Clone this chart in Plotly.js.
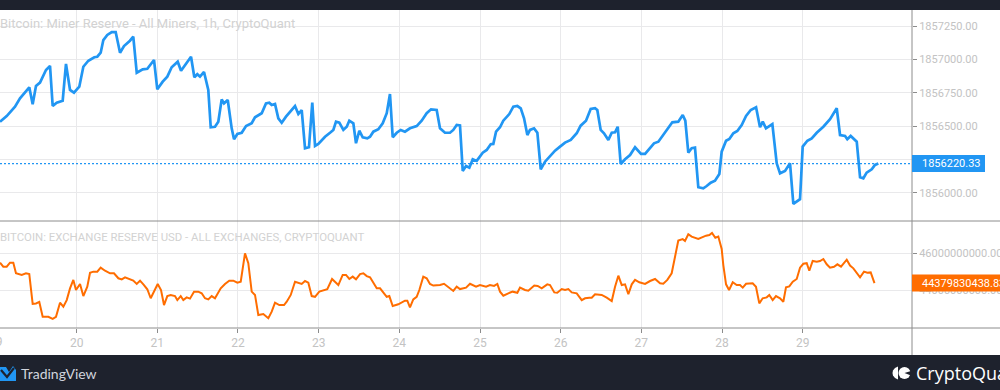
<!DOCTYPE html>
<html>
<head>
<meta charset="utf-8">
<script src="https://cdn.plot.ly/plotly-3.0.1.min.js"></script>
<style>
html,body{margin:0;padding:0;background:#fff;}
#chart{width:1000px;height:390px;}
</style>
</head>
<body>
<div id="chart"></div>
<script>
const dayTicks = [19,20,21,22,23,24,25,26,27,28,29];
const dayTickText = ["19","20","21","22","23","24","25","26","27","28","29"];

const minerDays = [19.05,19.133,19.236,19.298,19.413,19.455,19.496,19.546,19.62,19.67,
19.703,19.753,19.827,19.868,19.918,19.967,20.033,20.083,20.145,20.219,
20.256,20.298,20.331,20.38,20.435,20.484,20.538,20.587,20.661,20.702,
20.745,20.819,20.876,20.959,21.0,21.067,21.124,21.178,21.253,21.294,
21.418,21.459,21.496,21.529,21.579,21.632,21.662,21.715,21.756,21.798,
21.827,21.873,21.922,21.951,21.992,22.046,22.1,22.17,22.211,22.294,
22.347,22.388,22.418,22.459,22.5,22.542,22.595,22.645,22.707,22.748,
22.79,22.831,22.88,22.921,22.955,22.996,23.079,23.141,23.182,23.215,
23.256,23.306,23.348,23.38,23.43,23.463,23.504,23.546,23.603,23.637,
23.678,23.74,23.794,23.844,23.884,23.918,23.968,24.017,24.07,24.132,
24.182,24.215,24.277,24.339,24.393,24.463,24.504,24.566,24.628,24.669,
24.711,24.752,24.786,24.827,24.868,24.91,24.959,25.034,25.083,25.133,
25.165,25.199,25.248,25.289,25.363,25.413,25.463,25.505,25.546,25.587,
25.62,25.67,25.711,25.753,25.806,25.859,25.93,25.992,26.054,26.125,
26.199,26.248,26.314,26.372,26.426,26.454,26.496,26.537,26.591,26.633,
26.674,26.707,26.744,26.798,26.86,26.922,26.996,27.046,27.108,27.157,
27.211,27.273,27.334,27.384,27.458,27.513,27.545,27.582,27.624,27.665,
27.706,27.768,27.81,27.86,27.913,27.967,27.996,28.05,28.091,28.14,
28.19,28.244,28.298,28.356,28.422,28.471,28.505,28.545,28.624,28.678,
28.719,28.781,28.843,28.884,28.967,29.0,29.058,29.112,29.174,29.256,
29.339,29.422,29.463,29.525,29.553,29.595,29.67,29.711,29.752,29.793,
29.856,29.896,29.938];

const minerReserve = [1856534,1856576,1856646,1856709,1856791,1856664,1856801,1856826,1856921,1856951,
1856651,1856676,1856691,1856966,1856771,1856751,1856796,1856945,1856990,1857016,
1857020,1857050,1857145,1857183,1857205,1857205,1857050,1857100,1857140,1857170,
1856900,1856926,1856930,1856996,1856776,1856833,1856871,1856941,1856983,1856915,
1857020,1856866,1856889,1856871,1856906,1856771,1856492,1856496,1856534,1856701,
1856671,1856696,1856484,1856402,1856442,1856451,1856501,1856522,1856567,1856597,
1856671,1856676,1856659,1856666,1856559,1856526,1856571,1856609,1856651,1856591,
1856621,1856335,1856342,1856676,1856352,1856367,1856421,1856451,1856472,1856534,
1856526,1856472,1856496,1856541,1856522,1856372,1856466,1856417,1856409,1856421,
1856459,1856477,1856522,1856597,1856741,1856417,1856451,1856472,1856459,1856484,
1856496,1856501,1856541,1856597,1856626,1856621,1856484,1856451,1856451,1856472,
1856509,1856505,1856165,1856202,1856189,1856252,1856240,1856302,1856322,1856365,
1856367,1856459,1856492,1856541,1856591,1856646,1856651,1856634,1856559,1856434,
1856472,1856484,1856451,1856177,1856234,1856272,1856317,1856347,1856377,1856397,
1856447,1856504,1856541,1856629,1856634,1856621,1856472,1856447,1856397,1856451,
1856454,1856496,1856217,1856252,1856284,1856342,1856292,1856292,1856335,1856372,
1856384,1856439,1856484,1856529,1856534,1856584,1856541,1856302,1856335,1856339,
1856043,1856035,1856052,1856077,1856092,1856142,1856309,1856391,1856404,1856447,
1856464,1856509,1856576,1856621,1856641,1856492,1856534,1856484,1856516,1856222,
1856147,1856165,1856222,1855918,1855953,1856347,1856391,1856409,1856451,1856496,
1856552,1856634,1856434,1856427,1856402,1856427,1856384,1856118,1856110,1856152,
1856177,1856210,1856220.33];

const exchangeDays = [19.05,19.091,19.133,19.174,19.215,19.248,19.319,19.372,19.413,19.455,
19.496,19.537,19.579,19.649,19.703,19.744,19.794,19.835,19.877,19.918,
19.959,19.992,20.042,20.083,20.132,20.166,20.207,20.256,20.298,20.352,
20.414,20.463,20.517,20.559,20.6,20.662,20.702,20.745,20.786,20.835,
20.876,20.918,20.971,21.005,21.046,21.083,21.124,21.166,21.219,21.248,
21.29,21.322,21.364,21.405,21.455,21.508,21.55,21.591,21.632,21.674,
21.715,21.786,21.839,21.892,21.942,21.992,22.034,22.087,22.128,22.17,
22.211,22.252,22.314,22.376,22.418,22.459,22.512,22.571,22.604,22.654,
22.707,22.748,22.79,22.831,22.872,22.914,22.955,23.008,23.058,23.107,
23.166,23.244,23.298,23.339,23.38,23.422,23.463,23.513,23.554,23.596,
23.637,23.72,23.761,23.844,23.876,23.918,23.987,24.07,24.099,24.132,
24.173,24.215,24.248,24.297,24.339,24.38,24.421,24.483,
24.504,24.554,24.607,24.669,24.711,24.752,24.827,24.876,24.951,25.0,
25.075,25.124,25.174,25.215,25.248,25.289,25.351,25.405,25.463,25.496,
25.558,25.599,25.673,25.715,25.765,25.834,25.868,25.921,25.958,26.013,
26.054,26.095,26.137,26.199,26.261,26.302,26.355,26.385,26.426,26.509,
26.571,26.633,26.674,26.715,26.757,26.798,26.839,26.881,26.922,26.975,
27.046,27.108,27.17,27.232,27.272,27.322,27.376,27.417,
27.458,27.513,27.541,27.582,27.624,27.706,27.761,27.802,27.843,27.876,
27.917,27.954,27.996,28.016,28.05,28.087,28.133,28.182,28.223,28.257,
28.298,28.338,28.38,28.421,28.462,28.504,28.554,28.586,28.628,28.669,
28.719,28.76,28.793,28.834,28.877,28.926,28.967,29.008,29.05,29.082,
29.124,29.174,29.215,29.256,29.298,29.339,29.388,29.43,29.475,29.546,
29.587,29.628,29.67,29.711,29.76,29.801,29.843,29.89];

// exchange reserve in billions of USD
const exchangeReserveBn = [45.49,45.27,45.27,45.49,45.49,44.91,44.82,44.91,44.87,43.24,
43.27,43.35,42.54,42.54,42.43,42.54,43.31,43.09,43.45,44.09,
44.55,44.0,44.33,43.67,44.18,44.94,45.0,45.0,45.22,45.05,
44.91,44.91,44.64,44.58,44.69,44.6,44.51,44.33,44.51,44.27,
44.04,43.55,44.04,44.33,44.0,43.18,43.67,43.73,43.67,43.45,
43.67,43.45,43.6,43.53,43.91,43.91,43.82,43.55,43.49,43.67,
43.55,44.09,44.33,44.51,44.51,44.4,44.45,46.0,45.46,43.91,
43.73,42.64,42.69,42.46,42.82,43.31,43.18,43.18,43.36,43.73,
44.45,44.37,44.33,44.49,44.4,43.67,43.63,43.91,44.0,44.05,
44.6,44.27,44.82,44.82,44.6,44.73,44.58,44.87,44.91,44.76,
44.69,44.09,44.09,43.63,43.67,43.13,43.22,43.42,43.42,43.05,
43.49,43.63,44.0,44.73,44.64,44.33,44.24,44.24,
44.27,44.34,44.18,43.95,44.18,44.05,44.13,44.34,44.18,44.27,
44.18,44.27,44.22,44.33,43.91,43.69,43.82,43.91,43.85,44.13,
44.0,43.96,44.24,44.22,44.09,44.31,44.27,43.87,43.85,44.05,
44.0,44.05,43.87,43.82,43.45,43.55,43.58,43.58,43.77,43.73,
43.58,43.4,44.18,44.78,44.27,44.31,43.77,44.31,44.55,44.42,
44.33,44.49,44.6,44.37,44.34,44.55,44.91,45.73,
46.69,46.77,46.67,47.04,46.91,46.78,46.89,46.96,47.0,47.11,
46.85,46.91,46.24,45.36,44.31,44.0,44.42,44.27,44.27,44.13,
44.34,44.37,44.37,44.18,43.27,43.55,43.6,43.73,43.45,43.67,
43.55,43.36,44.15,44.2,44.45,44.6,45.22,45.43,45.46,45.05,
45.58,45.54,45.58,45.69,45.4,45.22,45.27,45.4,45.27,45.65,
45.33,45.18,44.91,44.69,45.0,44.94,44.96,44.37983043883];

const minerTicks = [1856000,1856250,1856500,1856750,1857000,1857250];
const minerTickText = ["1856000.00","1856250.00","1856500.00","1856750.00","1857000.00","1857250.00"];
const exchangeTicks = [44000000000,46000000000];
const exchangeTickText = ["44000000000.00","46000000000.00"];

const minerTitle = "Bitcoin: Miner Reserve - All Miners, 1h, CryptoQuant";
const exchangeTitle = "BITCOIN: EXCHANGE RESERVE USD - ALL EXCHANGES, CRYPTOQUANT";
const minerLastText = "1856220.33";
const exchangeLastText = "44379830438.83";
const firstDayLabel = "19";

// ---- Build ----
const BLUE = "#2196f3", ORANGE = "#ff6d00", DARK = "#1e222d", SEP = "#8c8c8c", GRID = "#e9e9eb", TICKTXT = "#c3c3c3";
const PW = 912, PB = 328, PH = 318;
const X = px => px / PW;
const Y = py => (PB - py) / PH;
const split = Y(221);

const exchangeReserve = exchangeReserveBn.map(v => v * 1e9);
const minerLast = minerReserve[minerReserve.length - 1];
const exchangeLast = exchangeReserve[exchangeReserve.length - 1];

const FONT = "Roboto, 'Liberation Sans', sans-serif";

const traces = [
  {x: minerDays, y: minerReserve, type: "scatter", mode: "lines", xaxis: "x", yaxis: "y",
   line: {color: BLUE, width: 2.7}, hoverinfo: "skip"},
  {x: exchangeDays, y: exchangeReserve, type: "scatter", mode: "lines", xaxis: "x", yaxis: "y2",
   line: {color: ORANGE, width: 2}, hoverinfo: "skip"}
];

function P(pts){ return "M " + pts.map(p => X(p[0]) + " " + Y(p[1])).join(" L ") + " Z"; }

const shapes = [
  {type: "rect", xref: "paper", yref: "paper", x0: 0, x1: X(1000), y0: Y(10), y1: Y(0), fillcolor: DARK, line: {width: 0}, layer: "above"},
  {type: "rect", xref: "paper", yref: "paper", x0: 0, x1: X(1000), y0: Y(390), y1: Y(355), fillcolor: DARK, line: {width: 0}, layer: "above"},
  {type: "line", xref: "paper", yref: "paper", x0: 0, x1: X(1000), y0: split, y1: split, line: {color: SEP, width: 1}, layer: "above"},
  {type: "line", xref: "paper", yref: "paper", x0: 0, x1: X(1000), y0: 0, y1: 0, line: {color: SEP, width: 1}, layer: "above"},
  {type: "line", xref: "paper", yref: "paper", x0: 1, x1: 1, y0: Y(355), y1: 1, line: {color: SEP, width: 1}, layer: "above"},
  {type: "line", xref: "paper", yref: "y", x0: 0, x1: 1, y0: minerLast, y1: minerLast, line: {color: BLUE, width: 1.3, dash: "2px,2px"}, layer: "above"},
  {type: "rect", xref: "paper", xsizemode: "pixel", xanchor: 1, x0: 0, x1: 73,
   yref: "y", ysizemode: "pixel", yanchor: minerLast, y0: -8.5, y1: 8.5, fillcolor: BLUE, line: {width: 0}, layer: "above"},
  {type: "rect", xref: "paper", xsizemode: "pixel", xanchor: 1, x0: 0, x1: 100,
   yref: "y2", ysizemode: "pixel", yanchor: exchangeLast, y0: -8.5, y1: 8.5, fillcolor: ORANGE, line: {width: 0}, layer: "above"},
  {type: "path", xref: "paper", yref: "paper", path: P([[0,367],[6,367],[9,372],[13,366],[16,370],[16,381],[0,381]]), fillcolor: BLUE, line: {width: 0}, layer: "above"},
  {type: "path", xref: "paper", yref: "paper", path: "M " + X(1) + " " + Y(370) + " L " + X(7) + " " + Y(377) + " L " + X(14) + " " + Y(368), line: {color: DARK, width: 2.2}, layer: "above"},
  {type: "path", xref: "paper", yref: "paper", path: P([[898,366.5],[895,368],[893,370.5],[892.5,373],[893,375.5],[895,378],[898,379.5]]), fillcolor: "#ffffff", line: {width: 0}, layer: "above"},
  {type: "circle", xref: "paper", yref: "paper", x0: X(898.5), x1: X(910.5), y0: Y(379), y1: Y(367), fillcolor: "#ffffff", line: {width: 0}, layer: "above"},
  {type: "path", xref: "paper", yref: "paper", path: P([[904.5,373],[911,371],[911,375.5]]), fillcolor: DARK, line: {width: 0}, layer: "above"}
];

const annotations = [
  {text: minerTitle, xref: "paper", yref: "paper", x: X(-2), y: Y(24), xanchor: "left", yanchor: "middle",
   showarrow: false, font: {family: FONT, size: 13, color: "#d2d2d2"}},
  {text: exchangeTitle, xref: "paper", yref: "paper", x: X(-2), y: Y(237), xanchor: "left", yanchor: "middle",
   showarrow: false, font: {family: FONT, size: 11.4, color: "#d2d2d2"}},
  {text: minerLastText, xref: "paper", yref: "y", x: 1, y: minerLast, xanchor: "left", yanchor: "middle", xshift: 8,
   showarrow: false, font: {family: FONT, size: 11, color: "#ffffff"}},
  {text: exchangeLastText, xref: "paper", yref: "y2", x: 1, y: exchangeLast, xanchor: "left", yanchor: "middle", xshift: 8,
   showarrow: false, font: {family: FONT, size: 11, color: "#ffffff"}},
  {text: firstDayLabel, xref: "paper", yref: "paper", x: X(-4), y: Y(342), xanchor: "center", yanchor: "middle",
   showarrow: false, font: {family: FONT, size: 12, color: TICKTXT}},
  {text: "TradingView", xref: "paper", yref: "paper", x: X(19), y: Y(373), xanchor: "left", yanchor: "middle",
   showarrow: false, font: {family: "Lato, 'Noto Sans', sans-serif", size: 14, color: "#d1d4dc"}},
  {text: "CryptoQuant", xref: "paper", yref: "paper", x: X(914), y: Y(373), xanchor: "left", yanchor: "middle",
   showarrow: false, font: {family: "'Open Sans', 'Noto Sans', sans-serif", size: 18, color: "#ffffff"}}
];

const layout = {
  width: 1000, height: 390, autosize: false,
  margin: {l: 0, r: 88, t: 10, b: 62, pad: 0},
  paper_bgcolor: "#ffffff", plot_bgcolor: "#ffffff",
  showlegend: false, hovermode: false,
  font: {family: FONT, color: TICKTXT},
  xaxis: {range: [19.05, 30.355], tickmode: "array", tickvals: dayTicks, ticktext: dayTickText,
    showgrid: true, gridcolor: GRID, gridwidth: 1, zeroline: false, showline: false,
    ticks: "outside", ticklen: 4, tickcolor: SEP, tickfont: {family: FONT, size: 12, color: TICKTXT},
    anchor: "y2", fixedrange: true},
  yaxis: {domain: [split, 1], range: [1855790, 1857370], side: "right", anchor: "x",
    tickmode: "array", tickvals: minerTicks, ticktext: minerTickText,
    showgrid: true, gridcolor: GRID, zeroline: false, showline: false,
    ticks: "outside", ticklen: 4, tickcolor: SEP, tickfont: {family: FONT, size: 11, color: TICKTXT}, fixedrange: true},
  yaxis2: {domain: [0, split], range: [41.93e9, 47.76e9], side: "right", anchor: "x",
    tickmode: "array", tickvals: exchangeTicks, ticktext: exchangeTickText,
    showgrid: true, gridcolor: GRID, zeroline: false, showline: false,
    ticks: "outside", ticklen: 4, tickcolor: SEP, tickfont: {family: FONT, size: 11, color: TICKTXT}, fixedrange: true},
  shapes: shapes,
  annotations: annotations
};

Plotly.newPlot("chart", traces, layout, {displayModeBar: false, staticPlot: true});
</script>
</body>
</html>
